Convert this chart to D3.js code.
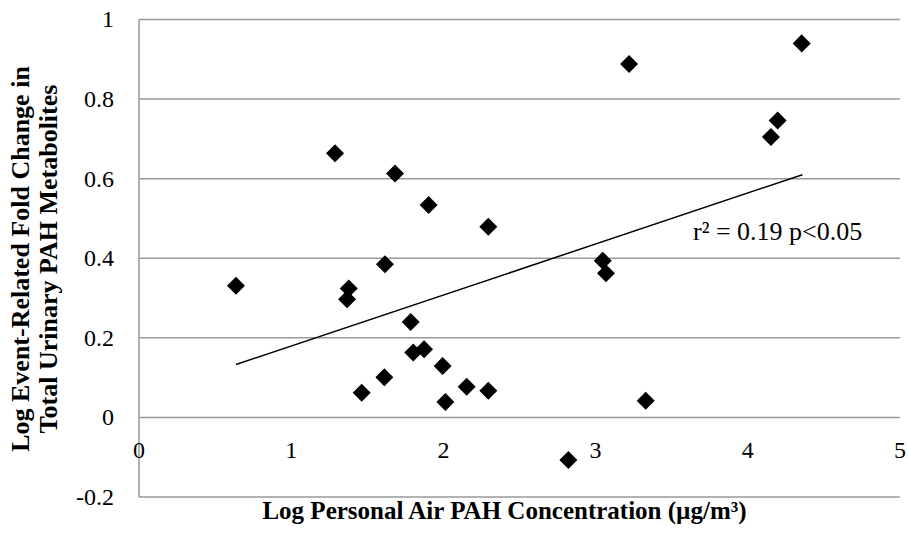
<!DOCTYPE html>
<html><head><meta charset="utf-8">
<script src="https://cdn.jsdelivr.net/npm/d3@7"></script>
<style>body{margin:0;background:#fff}svg{display:block}</style>
</head><body>
<svg id="c" width="908" height="535"></svg>
<script>
const xVals = [0.637,1.288,1.378,1.367,1.463,1.612,1.616,1.682,1.785,1.802,1.873,1.903,1.995,2.013,2.153,2.295,2.295,2.821,3.047,3.068,3.22,3.329,4.152,4.196,4.354];
const yVals = [0.331,0.664,0.324,0.297,0.062,0.101,0.385,0.613,0.240,0.163,0.171,0.534,0.129,0.039,0.077,0.067,0.479,-0.107,0.394,0.362,0.888,0.042,0.705,0.746,0.940];
const trendX = [0.637,4.359];
const trendY = [0.133,0.610];
const xTicks = [0,1,2,3,4,5];
const yTicks = [-0.2,0,0.2,0.4,0.6,0.8,1];
const xTitle = "Log Personal Air PAH Concentration (µg/m³)";
const yTitle = ["Log Event-Related Fold Change in","Total Urinary PAH Metabolites"];
const annotation = "r² = 0.19 p<0.05";

const svg = d3.select("#c");
const x = d3.scaleLinear().domain([0,5]).range([139,900]);
const y = d3.scaleLinear().domain([-0.2,1]).range([497,19.5]);
const font = "'Liberation Serif','Times New Roman',serif";
const grid = "#999";

svg.append("g").selectAll("line").data(yTicks).join("line")
  .attr("x1",x(0)).attr("x2",x(5)).attr("y1",d=>y(d)).attr("y2",d=>y(d))
  .attr("stroke",grid).attr("stroke-width",1.5);
svg.append("line").attr("x1",x(0)).attr("x2",x(0)).attr("y1",y(1)).attr("y2",y(-0.2))
  .attr("stroke",grid).attr("stroke-width",1.5);

svg.append("g").selectAll("text").data(yTicks).join("text")
  .attr("x",114).attr("y",d=>y(d)).attr("dy","0.33em").attr("text-anchor","end")
  .style("font-family",font).style("font-size","24px").text(d=>String(+d.toFixed(1)));
svg.append("g").selectAll("text").data(xTicks).join("text")
  .attr("x",d=>x(d)).attr("y",y(0)+41).attr("text-anchor","middle")
  .style("font-family",font).style("font-size","24px").text(d=>d);

svg.append("line").attr("x1",x(trendX[0])).attr("y1",y(trendY[0]))
  .attr("x2",x(trendX[1])).attr("y2",y(trendY[1]))
  .attr("stroke","#000").attr("stroke-width",1.5);

const sym = d3.symbol(d3.symbolSquare,162);
svg.append("g").selectAll("path").data(xVals.map((v,i)=>[v,yVals[i]])).join("path")
  .attr("d",sym).attr("transform",d=>`translate(${x(d[0])},${y(d[1])}) rotate(45)`)
  .attr("fill","#000");

svg.append("text").attr("x",693).attr("y",240)
  .style("font-family",font).style("font-size","26px").text(annotation);

svg.append("text").attr("x",504.5).attr("y",519).attr("text-anchor","middle")
  .style("font-family",font).style("font-size","25px").style("font-weight","bold").text(xTitle);
const yt = svg.append("text").attr("transform","translate(0,259) rotate(-90)")
  .attr("text-anchor","middle").style("font-family",font).style("font-size","26px").style("font-weight","bold");
yt.selectAll("tspan").data(yTitle).join("tspan").attr("x",0).attr("y",(d,i)=>29+i*28).text(d=>d);
</script>
</body></html>
